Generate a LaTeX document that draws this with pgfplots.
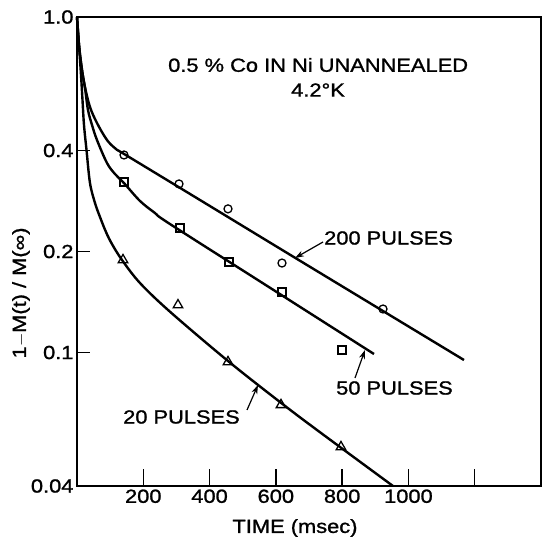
\documentclass[border=0pt]{standalone}
\usepackage{fontspec}
\setmainfont[FakeStretch=1.15, FakeBold=1.2]{Liberation Sans}
\usepackage{pgfplots}
\pgfplotsset{compat=1.18}
\usetikzlibrary{arrows.meta}
\newcommand{\lf}{\fontsize{19}{22}\selectfont}

\begin{document}
\begin{tikzpicture}
\begin{axis}[
  name=ax,
  scale only axis,
  width=464pt, height=469pt,
  xmin=0, xmax=1400,
  ymode=log, ymin=0.04, ymax=1.0,
  axis line style={line width=1.4pt},
  xtick={200,400,600,800,1000,1200},
  xticklabels={200,400,600,800,1000,{}},
  ytick={0.04,0.1,0.2,0.4,1},
  yticklabels={0.04,0.1,0.2,0.4,1.0},
  yminorticks=false,
  xtick pos=bottom, ytick pos=left,
  tick align=inside,
  major tick length=17pt,
  xtick style={line width=1.3pt, black},
  ytick style={draw=none},
  tick label style={font=\lf},
  /pgf/number format/assume math mode=true,
  clip=false,
]
% fitted curves
\addplot[line width=2.4pt, smooth, tension=0.55] coordinates {
  (0,1.0) (6.0,0.8251) (15.1,0.6953) (24.1,0.6182) (39.2,0.5391)
  (60.3,0.4831) (90.5,0.4299) (117.7,0.4042) (144.8,0.3892)
  (371.1,0.2848) (672.8,0.1877) (1167.6,0.09498)};
\addplot[line width=2.4pt, smooth, tension=0.55] coordinates {
  (0,1.0) (6.0,0.8251) (15.1,0.6953) (24.1,0.6142) (33.2,0.5281)
  (45.3,0.4765) (60.3,0.4299) (90.5,0.3671) (114.7,0.3404) (141.8,0.3199)
  (190.1,0.2829) (235.3,0.2604) (280.6,0.2415) (588.4,0.1546) (896.1,0.09898)};
\addplot[line width=2.4pt, smooth, tension=0.55] coordinates {
  (0,1.0) (6.0,0.8251) (12.1,0.6719) (16.6,0.5656) (21.1,0.4765)
  (28.7,0.4014) (39.2,0.3199) (54.3,0.2790) (69.4,0.2534) (87.5,0.2286)
  (105.6,0.2105) (135.8,0.1887) (190.1,0.1611) (280.6,0.1323)
  (455.6,0.09433) (612.5,0.07118) (724.1,0.05875) (953.4,0.04000)};
% measured points
\addplot[only marks, mark=o, mark size=4pt, mark options={line width=1.3pt}] coordinates {
  (141.8,0.388) (307.8,0.318) (455.6,0.268) (618.5,0.1848) (923.3,0.1348)};
\addplot[only marks, mark=square, mark size=4pt, mark options={line width=1.2pt}] coordinates {
  (141.8,0.3222) (310.8,0.2350) (458.6,0.1861) (618.5,0.1515) (799.6,0.1017)};
\addplot[only marks, mark=triangle, mark size=5.5pt, mark options={line width=1.3pt}] coordinates {
  (138.8,0.1887) (304.7,0.1385) (455.6,0.0937) (615.5,0.0698) (796.5,0.0523)};
\end{axis}
\begin{scope}[shift={(ax.south west)}]
  % y ticks
  \draw[line width=1.3pt] (0,335.5pt) -- (13pt,335.5pt);
  \draw[line width=1.3pt] (0,234.5pt) -- (13pt,234.5pt);
  \draw[line width=1.3pt] (0,133.5pt) -- (13pt,133.5pt);
  \node[anchor=west, font=\lf, inner sep=0pt] at (91pt,421pt) {0.5 \% Co IN Ni UNANNEALED};
  \node[anchor=west, font=\lf, inner sep=0pt] at (214pt,396pt) {4.2°K};
  \node[anchor=west, font=\lf, inner sep=0pt] at (247pt,248pt) {200 PULSES};
  \node[anchor=west, font=\lf, inner sep=0pt] at (259pt,98pt) {50 PULSES};
  \node[anchor=west, font=\lf, inner sep=0pt] at (46pt,69pt) {20 PULSES};
  \draw[line width=1.2pt, -{Stealth[length=9pt, width=6pt]}] (246pt,244pt) -- (218pt,228pt);
  \draw[line width=1.2pt, -{Stealth[length=9pt, width=6pt]}] (278pt,108pt) -- (288pt,136pt);
  \draw[line width=1.2pt, -{Stealth[length=9pt, width=6pt]}] (170pt,76pt) -- (181pt,101pt);
  \node[font=\lf, rotate=90, inner sep=0pt] at (-56pt,193pt) {1$-$M(t) / M(∞)};
  \node[font=\lf, inner sep=0pt] at (218pt,-42pt) {TIME (msec)};
  \pgfresetboundingbox
  \path[use as bounding box] (-77pt,-53pt) rectangle (465pt,486pt);
\end{scope}
\end{tikzpicture}
\end{document}
